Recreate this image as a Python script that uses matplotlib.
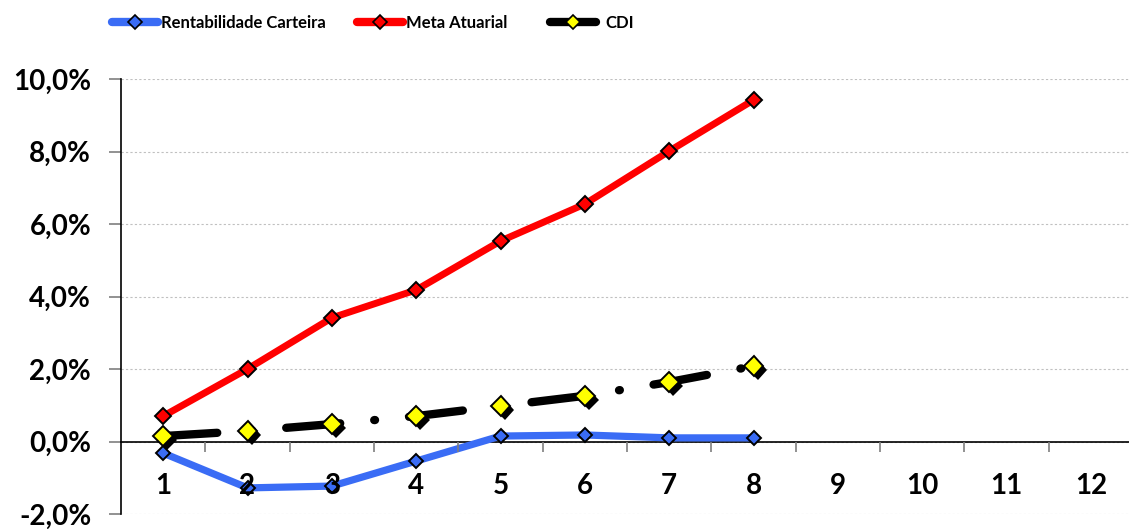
import matplotlib
matplotlib.use('Agg')
import matplotlib.pyplot as plt
from matplotlib.lines import Line2D
import matplotlib.patheffects as pe
from matplotlib.ticker import FixedLocator, FuncFormatter, NullFormatter
import numpy as np

# ---- data ----
months = list(range(1, 13))
month_labels = [str(m) for m in months]
rentabilidade = [-0.32, -1.28, -1.23, -0.54, 0.15, 0.18, 0.10, 0.10]
meta_atuarial = [0.70, 2.00, 3.41, 4.18, 5.53, 6.55, 8.01, 9.42]
cdi = [0.15, 0.29, 0.48, 0.70, 0.98, 1.26, 1.64, 2.08]
series_names = ["Rentabilidade Carteira", "Meta Atuarial", "CDI"]
y_ticks = [-2, 0, 2, 4, 6, 8, 10]

BLUE = '#3A6CF5'
RED = '#FF0000'
YELLOW = '#FFFF00'

plt.rcParams['font.family'] = ['Lato', 'DejaVu Sans']
plt.rcParams['font.weight'] = 'bold'

W, H = 1129, 529
fig = plt.figure(figsize=(W / 100, H / 100), dpi=100)
ax = fig.add_axes([121 / W, 1 - 514 / H, (1133 - 121) / W, (514 - 79) / H])
ax.set_xlim(0.5, 12.5)
ax.set_ylim(-2, 10)

n = len(rentabilidade)
xs = months[:n]

# lines
ax.plot(xs, rentabilidade, color=BLUE, lw=5.2, solid_capstyle='round', solid_joinstyle='round',
        marker='D', ms=7.5, mfc=BLUE, mec='black', mew=1.4, zorder=3, clip_on=False)
ax.plot(xs, meta_atuarial, color=RED, lw=5.0, solid_capstyle='round', solid_joinstyle='round',
        marker='D', ms=8.3, mfc=RED, mec='black', mew=1.4, zorder=4, clip_on=False)
ax.plot(xs, cdi, color='black', lw=6.0, dash_capstyle='round',
        linestyle=(0, (6.5, 4.1, 0.1, 4.1)), zorder=5, clip_on=False)
ax.plot(xs, cdi, linestyle='none', marker='D', ms=10, mfc=YELLOW, mec='black', mew=1.4,
        zorder=6, clip_on=False,
        path_effects=[pe.SimplePatchShadow(offset=(3, -3), shadow_rgbFace='black', alpha=1.0),
                      pe.Normal()])

# spines
for s in ['top', 'right']:
    ax.spines[s].set_visible(False)
ax.spines['bottom'].set_position(('data', 0))
ax.spines['bottom'].set_color('black')
ax.spines['bottom'].set_linewidth(1.2)
ax.spines['left'].set_color('black')
ax.spines['left'].set_linewidth(1.2)

# y axis
ax.yaxis.set_major_locator(FixedLocator(y_ticks))
ax.yaxis.set_major_formatter(FuncFormatter(lambda v, p: f"{v:.1f}%".replace('.', ',')))
ax.tick_params(axis='y', direction='out', length=8.5, width=1.2, color='#7f7f7f',
               pad=13, labelsize=20)
ax.yaxis.grid(True, linestyle=(0, (2, 2)), color='#c0c0c0', lw=0.8)
ax.set_axisbelow(True)

# x axis: boundary ticks (major), labels on minor ticks at categories
ax.xaxis.set_major_locator(FixedLocator(np.arange(1.5, 12.6, 1.0)))
ax.xaxis.set_major_formatter(NullFormatter())
ax.xaxis.set_minor_locator(FixedLocator(months))
ax.xaxis.set_minor_formatter(FuncFormatter(lambda v, p: month_labels[int(round(v)) - 1]))
ax.tick_params(axis='x', which='major', direction='out', length=7.5, width=1.2, color='#7f7f7f')
ax.tick_params(axis='x', which='minor', length=0, pad=23, labelsize=20)
ax.xaxis.set_zorder(10)  # category labels drawn over the lines, as in the reference

# legends (three separate entries across the top)
handles = [
    Line2D([], [], color=BLUE, lw=6, solid_capstyle='round', marker='D', ms=7,
           mfc=BLUE, mec='black', mew=1.2),
    Line2D([], [], color=RED, lw=6, solid_capstyle='round', marker='D', ms=7,
           mfc=RED, mec='black', mew=1.2),
    Line2D([], [], color='black', lw=6, solid_capstyle='round', marker='D', ms=7,
           mfc=YELLOW, mec='black', mew=1.2),
]
starts = [112, 357, 550]
pads = [0.2, 0.2, 0.6]
for h, name, x0, tp in zip(handles, series_names, starts, pads):
    fig.legend(handles=[h], labels=[name], loc='center left',
               bbox_to_anchor=(x0 / W, 1 - 23 / H), frameon=False, borderpad=0,
               borderaxespad=0, handlelength=2.75, handletextpad=tp,
               prop={'size': 12, 'weight': 'bold'})

fig.savefig('out.png', dpi=100)
